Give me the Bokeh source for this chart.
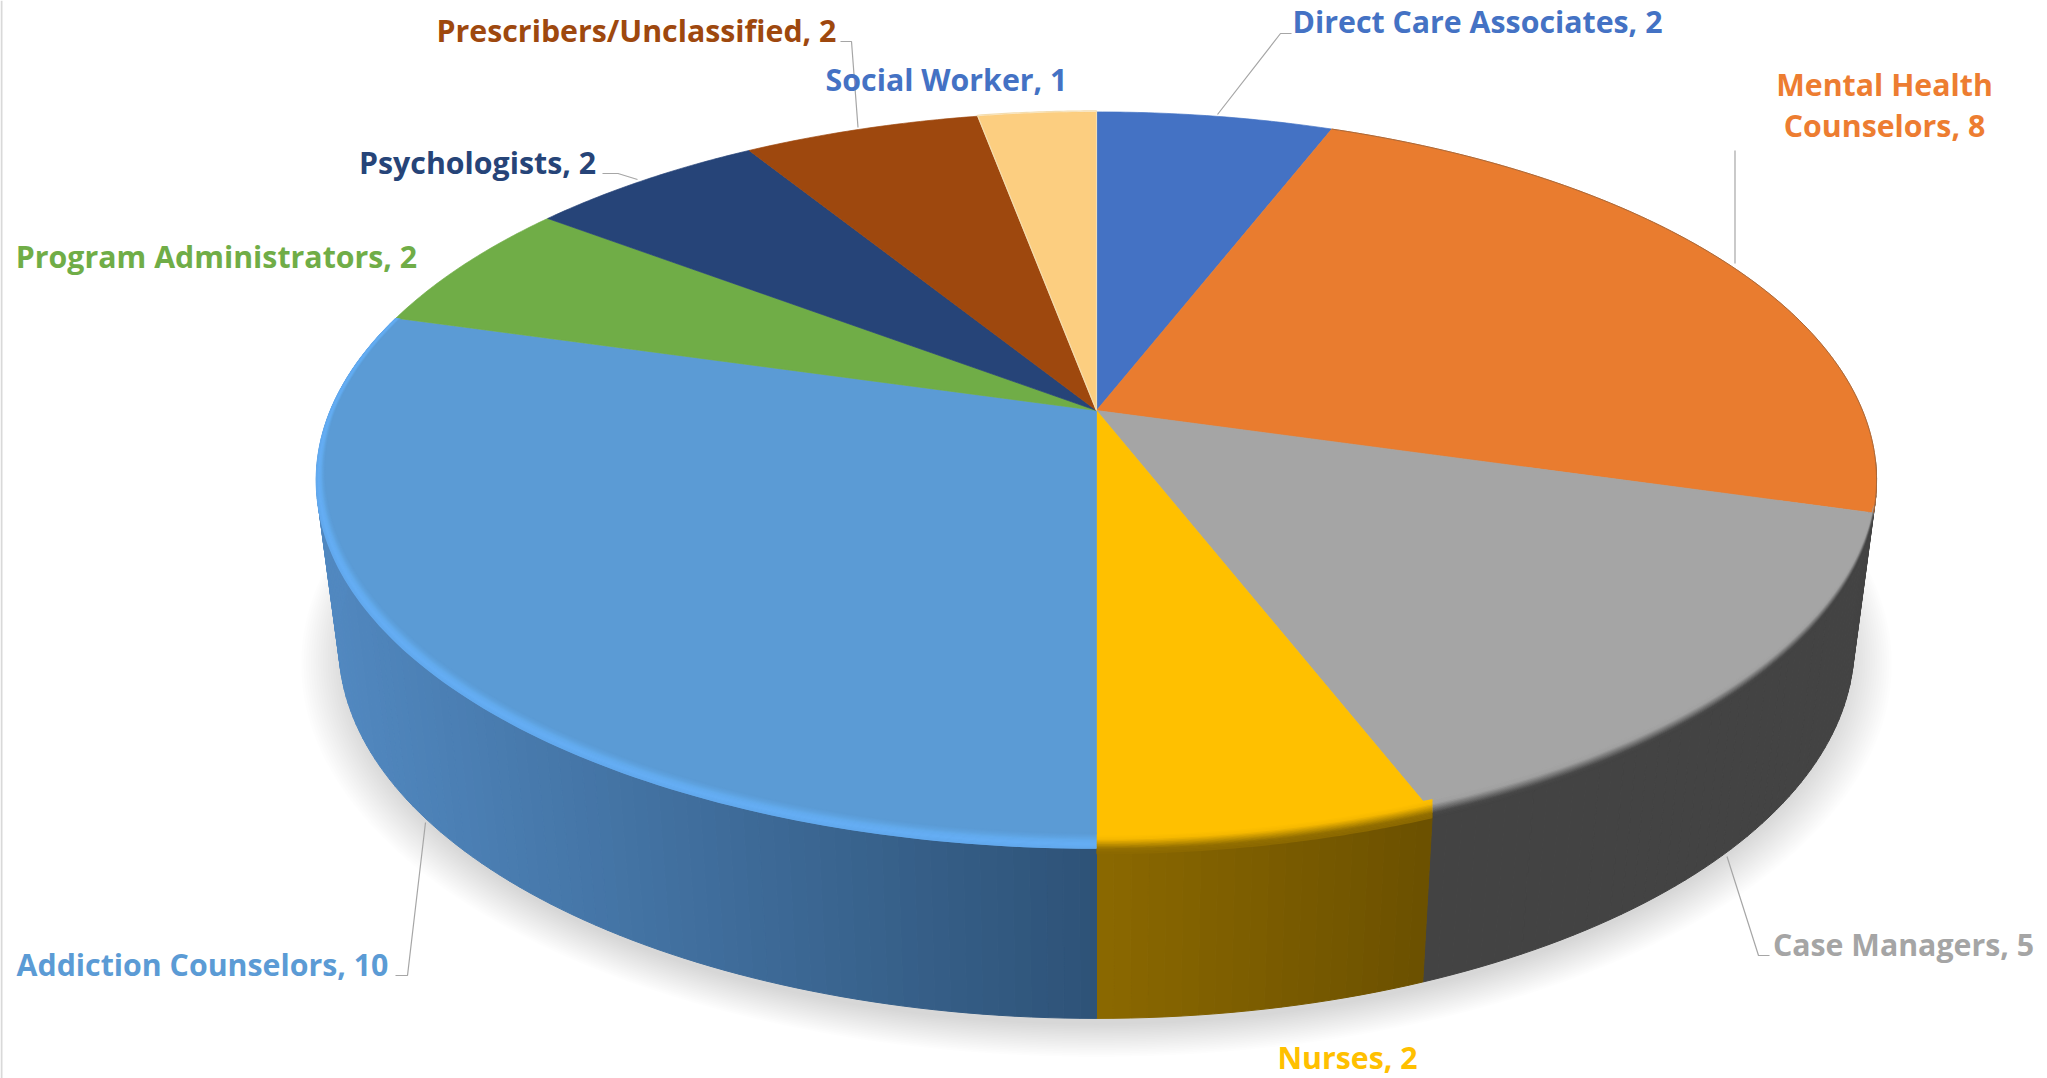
import numpy as np
from bokeh.plotting import figure
from bokeh.core.properties import value
from bokeh.embed import file_html
from bokeh.resources import INLINE

# ---- data ----
categories = ["Direct Care Associates", "Mental Health Counselors", "Case Managers", "Nurses",
              "Addiction Counselors", "Program Administrators", "Psychologists",
              "Prescribers/Unclassified", "Social Worker"]
counts = [2, 8, 5, 2, 10, 2, 2, 2, 1]
slice_colors = ["#4472C4", "#E97C2F", "#A5A5A5", "#FFC000", "#5B9BD5", "#70AD47", "#264478", "#9E480E", "#FCCE80"]
label_colors = ["#4472C4", "#ED7D31", "#A5A5A5", "#FFC000", "#5B9BD5", "#70AD47", "#264478", "#9E480E", "#4472C4"]

# ---- layout (page pixels) ----
W, H = 2047, 1078
CX = 1096.0
K = 0.189
TOP = dict(A=766.0, B=355.0, y0=410.0)
BOT = dict(A=744.0, B=360.0, y0=574.0)
FS = "30.3px"
label_pos = {  # centre x, centre y per line
    "Direct Care Associates": (1477, 21),
    "Mental Health Counselors": (1884, 84),
    "Case Managers": (1903, 944),
    "Nurses": (1347, 1057),
    "Addiction Counselors": (202, 964),
    "Program Administrators": (216, 256),
    "Psychologists": (477, 162),
    "Prescribers/Unclassified": (636, 30),
    "Social Worker": (946, 79),
}
leaders = [
    ([1217, 1280, 1291], [114, 33, 33]),
    ([1734.5, 1734.5], [150, 263]),
    ([840, 851, 857.5], [41, 41, 127]),
    ([602, 617.5, 637], [173, 173, 179]),
    ([425, 407, 395], [822, 975, 975]),
    ([1726.5, 1758, 1769], [856, 955, 955]),
]


def proj(theta, r, m, dy=0.0):
    u, v = r * np.sin(theta), r * np.cos(theta)
    w = 1 + K * v
    return CX + m["A"] * u / w, m["y0"] + dy - m["B"] * v / w


def mix(c1, c2, t):
    a = [int(c1[i:i + 2], 16) for i in (1, 3, 5)]
    b = [int(c2[i:i + 2], 16) for i in (1, 3, 5)]
    return "#%02x%02x%02x" % tuple(int(round(x + (y - x) * t)) for x, y in zip(a, b))


def ramp(stops, n):
    out = []
    for i in range(n):
        s = i / (n - 1) * (len(stops) - 1)
        j = min(int(s), len(stops) - 2)
        out.append(mix(stops[j], stops[j + 1], s - j))
    return out


cum = np.concatenate([[0], np.cumsum(counts)]) / np.sum(counts) * 2 * np.pi
spans = {c: (cum[i], cum[i + 1]) for i, c in enumerate(categories)}

p = figure(width=W, height=H, x_range=(0, W), y_range=(H, 0), toolbar_location=None,
           output_backend="svg", min_border=0, margin=(0, 0, 0, 0), outline_line_color=None,
           background_fill_color="white", border_fill_color="white")
p.axis.visible = False
p.grid.visible = False

# frame line at the left edge
p.line([1, 1], [0, H], line_color="#D9D9D9", line_width=2)

# soft shadow under the disc
full = np.linspace(0, 2 * np.pi, 361)
for r in np.linspace(1.048, 0.99, 20):
    x, y = proj(full, r, BOT, dy=12)
    p.patch(x, y, fill_color="black", fill_alpha=0.0075, line_color=None)

# side walls
wall_stops = {
    "Mental Health Counselors": ("#434343", "#434343"),
    "Case Managers": ("#434343", "#434343"),
    "Nurses": ("#8C6900", "#6C5100"),
    "Addiction Counselors": ("#2E5378", "#5188C0"),
}
wx, wy, wc = [], [], []
for name, (c_a, c_b) in wall_stops.items():
    a, b = spans[name]
    if name == "Mental Health Counselors":
        a = np.radians(98.0)
    edges = np.linspace(a, b, max(3, int(np.degrees(b - a))))
    xl, xr = proj(np.array([a, b]), 1, BOT)[0]
    if name == "Nurses":
        xl, xr = xr, xl
    for t0, t1 in zip(edges[:-1], edges[1:]):
        x0, y0 = proj(t0, 1, TOP)
        x1, y1 = proj(t1, 1, TOP)
        x2, y2 = proj(t1, 1, BOT)
        x3, y3 = proj(t0, 1, BOT)
        wx.append([x0, x1, x2, x3])
        wy.append([y0, y1, y2, y3])
        if name == "Nurses":
            f = (x3 - xl) / (xr - xl)
        elif name == "Addiction Counselors":
            f = (CX - x3) / (CX - proj(np.radians(265.0), 1, BOT)[0])
        else:
            f = 0
        wc.append(mix(c_a, c_b, min(max(f, 0), 1)))
p.patches(wx, wy, fill_color=wc, line_color=wc, line_width=1)

# top faces
for name, col in zip(categories, slice_colors):
    a, b = spans[name]
    th = np.linspace(a, b, max(4, int(np.degrees(b - a) * 2)))
    x, y = proj(th, 1, TOP)
    x = np.r_[CX, x]
    y = np.r_[TOP["y0"], y]
    p.patch(x, y, fill_color=col, line_color=col, line_width=0.7)

# bevel along the front rim: vertical blur on the grey and gold slices
vertical = {
    "Case Managers": ["#A5A5A5", "#A0A0A0", "#747474", "#4A4A4A", "#434343"],
    "Nurses": ["#FFC000", "#F5B800", "#C39300", "#947000", "#8C6900"],
}
for name, stops in vertical.items():
    a, b = spans[name]
    th = np.linspace(a, b, 70)
    x, y = proj(th, 1, TOP)
    h = 6 + 8 * np.clip(-np.cos(th), 0, 1)
    n = 14
    cols = ramp(stops, n)
    offs = np.linspace(-1.0, 0.4, n + 1)
    for c, o0, o1 in zip(cols, offs[:-1], offs[1:]):
        y0 = y + h * o0
        y1 = y + h * o1 + 0.5
        p.patch(np.r_[x, x[::-1]], np.r_[y0, y1[::-1]], fill_color=c, line_color=None)

# light rim of the large blue slice
a, b = spans["Addiction Counselors"]
th = np.linspace(a, b, 120)
width = 0.007 + 0.022 * np.clip(-np.cos(th), 0, 1)
n = 14
cols = ramp(["#5B9BD5", "#5EA2DF", "#63ABEE", "#65AEF4", "#62A9EE"], n)
offs = np.linspace(1.0, 0.0, n + 1)
for c, o0, o1 in zip(cols, offs[:-1], offs[1:]):
    r0 = 1 - width * o0
    r1 = 1 - width * o1 + 0.001
    x0, y0 = proj(th, r0, TOP)
    x1, y1 = proj(th[::-1], r1[::-1], TOP)
    p.patch(np.r_[x0, x1], np.r_[y0, y1], fill_color=c, line_color=None)

# thin edge on the back rim
a, b = spans["Mental Health Counselors"]
th = np.linspace(a, b, 120)
x, y = proj(th, 1, TOP)
p.line(x, y, line_color="#A8683A", line_width=1.0)
a, b = spans["Social Worker"]
th = np.linspace(a, b, 30)
x, y = proj(th, 1.004, TOP)
p.line(np.r_[CX, x, CX], np.r_[TOP["y0"], y, TOP["y0"]], line_color="#F3DDB0", line_width=1.2)

# leader lines
for lx, ly in leaders:
    p.line(lx, ly, line_color="#A6A6A6", line_width=1.2)

# labels
for name, cnt, col in zip(categories, counts, label_colors):
    cx_, cy_ = label_pos[name]
    if name == "Mental Health Counselors":
        lines = ["Mental Health", f"Counselors, {cnt}"]
    else:
        lines = [f"{name}, {cnt}"]
    for i, t in enumerate(lines):
        p.text([cx_], [cy_ + i * 41], text=[t], text_font=value("Open Sans"), text_font_style="bold",
               text_font_size=FS, text_color=col, text_align="center", text_baseline="middle")

open("out.html", "w").write(file_html(p, INLINE))
